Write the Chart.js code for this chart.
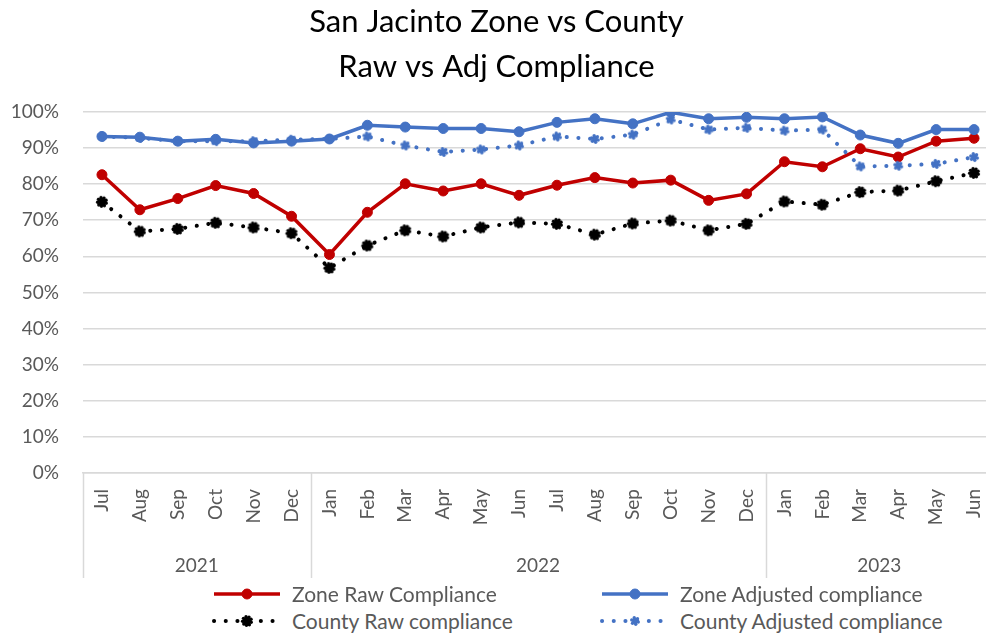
<!DOCTYPE html>
<html>
<head>
<meta charset="utf-8">
<title>San Jacinto Zone vs County</title>
<script src="https://cdn.jsdelivr.net/npm/chart.js@4.4.0/dist/chart.umd.min.js"></script>
<style>
    body { margin: 0; overflow: hidden; background: #fff; font-family: Lato, sans-serif; }
    #wrap { position: relative; width: 993px; height: 637px; }
    #legend { position: absolute; left: 0; top: 580px; width: 986px; }
    .legend-item { position: absolute; display: flex; align-items: center; height: 27px; color: #595959; font-size: 21px; white-space: nowrap; }
    .legend-item canvas { margin-right: 10px; }
</style>
</head>
<body>
<div id="wrap">
    <canvas id="complianceChart" width="993" height="582"></canvas>
    <div id="legend"></div>
</div>
<script>
const monthLabels = ['Jul', 'Aug', 'Sep', 'Oct', 'Nov', 'Dec',
    'Jan', 'Feb', 'Mar', 'Apr', 'May', 'Jun', 'Jul', 'Aug', 'Sep', 'Oct', 'Nov', 'Dec',
    'Jan', 'Feb', 'Mar', 'Apr', 'May', 'Jun'];
const yearLabels = ['2021', '2022', '2023'];
const yearSpans = [6, 12, 6];
const yTicks = [0, 10, 20, 30, 40, 50, 60, 70, 80, 90, 100];

const zoneRaw = [82.6, 72.9, 76.0, 79.6, 77.4, 71.1, 60.5, 72.2, 80.1, 78.1, 80.1, 76.9,
    79.7, 81.8, 80.3, 81.1, 75.5, 77.3, 86.2, 84.8, 89.8, 87.5, 91.9, 92.7];
const zoneAdjusted = [93.2, 93.0, 91.9, 92.4, 91.4, 91.9, 92.5, 96.3, 95.8, 95.4, 95.4, 94.5,
    97.1, 98.1, 96.7, 99.9, 98.1, 98.5, 98.1, 98.6, 93.6, 91.3, 95.1, 95.1];
const countyRaw = [75.1, 66.9, 67.6, 69.3, 68.0, 66.4, 56.8, 63.0, 67.2, 65.5, 68.0, 69.4,
    69.0, 66.0, 69.1, 69.9, 67.2, 69.0, 75.2, 74.3, 77.8, 78.2, 80.8, 83.1];
const countyAdjusted = [93.2, 92.8, 91.9, 91.9, 91.9, 92.3, 92.5, 93.2, 90.7, 88.9, 89.6, 90.7,
    93.2, 92.5, 93.7, 97.9, 95.1, 95.6, 94.8, 95.1, 84.9, 85.1, 85.6, 87.5];

const seriesNames = ['Zone Raw Compliance', 'Zone Adjusted compliance', 'County Raw compliance', 'County Adjusted compliance'];

const RED = '#C00000';
const BLUE = '#4472C4';
const BLACK = '#000000';
const GRID = '#D9D9D9';
const TEXT = '#595959';

// ragged round marker used on the dotted series
const raggedMarker = (color, r, n, core) => {
    const size = Math.ceil(r * 2 + 4);
    const c = document.createElement('canvas');
    c.width = size;
    c.height = size;
    const g = c.getContext('2d');
    const m = size / 2;
    g.fillStyle = color;
    g.beginPath();
    g.arc(m, m, core, 0, Math.PI * 2);
    g.fill();
    for (let i = 0; i < n; i++) {
        const a = i * Math.PI * 2 / n + 0.3;
        g.beginPath();
        g.arc(m + Math.cos(a) * (r - 1.6), m + Math.sin(a) * (r - 1.6), 1.7, 0, Math.PI * 2);
        g.fill();
    }
    return c;
};

const solidSeries = (label, data, color, order) => ({
    label,
    data,
    borderColor: color,
    backgroundColor: color,
    borderWidth: 3.5,
    pointRadius: 5,
    pointBorderWidth: 1,
    pointBackgroundColor: color,
    pointBorderColor: color,
    tension: 0,
    order,
});

const dottedSeries = (label, data, color, marker, order) => ({
    label,
    data,
    borderColor: color,
    backgroundColor: color,
    borderWidth: 4,
    borderDash: [0.1, 11.6],
    borderCapStyle: 'round',
    pointStyle: marker,
    pointRadius: 6,
    tension: 0,
    order,
});

const datasets = [
    solidSeries(seriesNames[0], zoneRaw, RED, 4),
    solidSeries(seriesNames[1], zoneAdjusted, BLUE, 3),
    dottedSeries(seriesNames[2], countyRaw, BLACK, raggedMarker(BLACK, 6, 9, 4.2), 2),
    dottedSeries(seriesNames[3], countyAdjusted, BLUE, raggedMarker(BLUE, 5, 6, 3), 1),
];

// year group centres and boundaries, in category units
const yearCentres = [];
const yearBounds = [-0.5];
let start = 0;
yearSpans.forEach(span => {
    yearCentres.push(start + (span - 1) / 2);
    start += span;
    yearBounds.push(start - 0.5);
});

// rotated labels make chart.js reserve side padding; keep the axis full width
const noSidePadding = scale => {
    scale.paddingLeft = 0;
    scale.paddingRight = 0;
};

const yearDividers = {
    id: 'yearDividers',
    afterDraw(chart) {
        const years = chart.scales.years;
        const ctx = chart.ctx;
        ctx.save();
        ctx.strokeStyle = GRID;
        ctx.lineWidth = 1.5;
        yearBounds.forEach(b => {
            const x = Math.round(years.getPixelForValue(b)) + 0.5;
            ctx.beginPath();
            ctx.moveTo(x, chart.chartArea.bottom);
            ctx.lineTo(x, years.bottom - 2);
            ctx.stroke();
        });
        ctx.restore();
    }
};

const htmlLegend = {
    id: 'htmlLegend',
    afterUpdate(chart) {
        const box = document.getElementById('legend');
        box.innerHTML = '';
        const columns = [212, 600];
        chart.data.datasets.forEach((ds, i) => {
            const item = document.createElement('div');
            item.className = 'legend-item';
            item.style.left = columns[i % 2] + 'px';
            item.style.top = (Math.floor(i / 2) * 27) + 'px';

            const sample = document.createElement('canvas');
            sample.width = 70;
            sample.height = 16;
            const g = sample.getContext('2d');
            g.strokeStyle = ds.borderColor;
            g.lineWidth = ds.borderWidth;
            g.lineCap = ds.borderCapStyle || 'butt';
            g.setLineDash(ds.borderDash || []);
            g.beginPath();
            g.moveTo(2, 8);
            g.lineTo(68, 8);
            g.stroke();
            g.setLineDash([]);
            g.fillStyle = ds.pointBackgroundColor || ds.borderColor;
            g.strokeStyle = ds.pointBorderColor || ds.borderColor;
            g.lineWidth = 1;
            Chart.helpers.drawPoint(g, {
                pointStyle: ds.pointStyle || 'circle',
                radius: ds.pointRadius,
                borderWidth: 1,
                rotation: 0,
            }, 35, 8);

            const text = document.createElement('span');
            text.textContent = ds.label;
            item.appendChild(sample);
            item.appendChild(text);
            box.appendChild(item);
        });
    }
};

new Chart(document.getElementById('complianceChart'), {
    type: 'line',
    data: { labels: monthLabels, datasets },
    options: {
        responsive: false,
        devicePixelRatio: 1,
        animation: false,
        layout: { autoPadding: false, padding: { left: 0, right: 0, top: 0, bottom: 2 } },
        plugins: {
            legend: { display: false },
            tooltip: { enabled: false },
            title: {
                display: true,
                text: ['San Jacinto Zone vs County', 'Raw vs Adj Compliance'],
                color: '#000',
                font: { family: 'Lato', size: 31, weight: 'normal', lineHeight: 1.45 },
                padding: { top: 0, bottom: 22 },
            },
        },
        scales: {
            y: {
                min: 0,
                max: 100,
                afterFit: scale => { scale.width = 83; },
                afterBuildTicks: scale => { scale.ticks = yTicks.map(v => ({ value: v })); },
                ticks: {
                    callback: v => v + '%',
                    color: TEXT,
                    font: { family: 'Lato', size: 19 },
                    padding: 24,
                },
                grid: { color: GRID, lineWidth: 1.5, drawTicks: false },
                border: { display: false },
            },
            x: {
                type: 'category',
                offset: true,
                weight: 0,
                afterFit: scale => {
                    scale.height = 57;
                    noSidePadding(scale);
                },
                ticks: {
                    minRotation: 90,
                    maxRotation: 90,
                    autoSkip: false,
                    color: TEXT,
                    font: { family: 'Lato', size: 19 },
                    padding: 16,
                },
                grid: { display: false, drawTicks: false },
                border: { display: true, color: GRID, width: 1.5 },
            },
            years: {
                type: 'linear',
                position: 'bottom',
                weight: 1,
                min: -0.5,
                max: 23.5,
                bounds: 'data',
                afterFit: scale => {
                    scale.height = 50;
                    noSidePadding(scale);
                },
                afterBuildTicks: scale => { scale.ticks = yearCentres.map(v => ({ value: v })); },
                ticks: {
                    callback: (v, i) => yearLabels[i],
                    color: TEXT,
                    font: { family: 'Lato', size: 19 },
                    padding: 24,
                    maxRotation: 0,
                    autoSkip: false,
                },
                grid: { display: false, drawTicks: false },
                border: { display: false },
            },
        },
    },
    plugins: [yearDividers, htmlLegend],
});
</script>
</body>
</html>
